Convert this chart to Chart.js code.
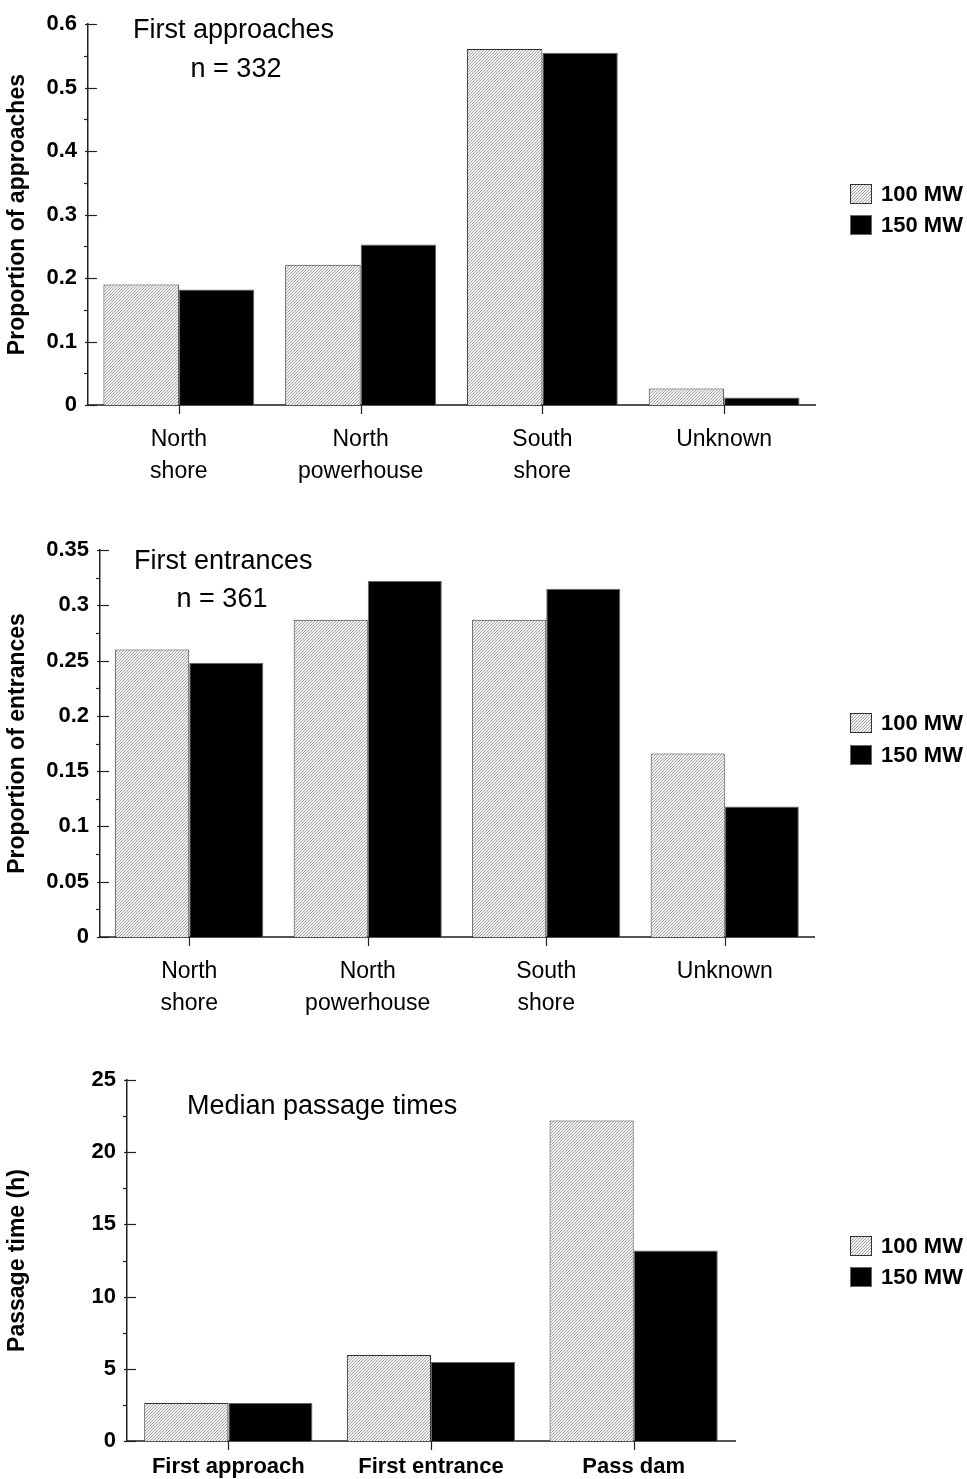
<!DOCTYPE html>
<html>
<head>
<meta charset="utf-8">
<script src="https://cdn.jsdelivr.net/npm/chart.js@4.4.1/dist/chart.umd.min.js"></script>
<style>
  body { margin: 0; background: #fff; }
  .wrap { position: relative; width: 967px; height: 1479px; }
  canvas { position: absolute; left: 0; }
</style>
</head>
<body>
<div class="wrap">
  <canvas id="c1" width="967" height="505" style="top:0px"></canvas>
  <canvas id="c2" width="967" height="520" style="top:510px"></canvas>
  <canvas id="c3" width="967" height="449" style="top:1030px"></canvas>
</div>
<script>
const seriesNames = ['100 MW', '150 MW'];

const approachCats = [['North', 'shore'], ['North', 'powerhouse'], ['South', 'shore'], 'Unknown'];
const approach100 = [0.190, 0.221, 0.561, 0.026];
const approach150 = [0.182, 0.253, 0.555, 0.012];
const approachTicks = [0, 0.1, 0.2, 0.3, 0.4, 0.5, 0.6];

const entranceCats = [['North', 'shore'], ['North', 'powerhouse'], ['South', 'shore'], 'Unknown'];
const entrance100 = [0.260, 0.287, 0.287, 0.166];
const entrance150 = [0.248, 0.322, 0.315, 0.118];
const entranceTicks = [0, 0.05, 0.1, 0.15, 0.2, 0.25, 0.3, 0.35];

const passageCats = ['First approach', 'First entrance', 'Pass dam'];
const passage100 = [2.63, 5.96, 22.2];
const passage150 = [2.63, 5.47, 13.2];
const passageTicks = [0, 5, 10, 15, 20, 25];

const FONT = '"Liberation Sans", Arial, sans-serif';

// light grey fill with fine "/" hatching
function hatch() {
  const c = document.createElement('canvas');
  c.width = 3; c.height = 3;
  const g = c.getContext('2d');
  g.fillStyle = '#f2f2f2';
  g.fillRect(0, 0, 3, 3);
  g.fillStyle = '#a6a6a6';
  for (let i = 0; i < 3; i++) g.fillRect(i, 2 - i, 1, 1);
  return g.createPattern(c, 'repeat');
}

const decor = {
  id: 'decor',
  afterDraw(chart, args, opts) {
    const ctx = chart.ctx;
    const xs = chart.scales.x, ys = chart.scales.y;
    ctx.save();
    ctx.strokeStyle = '#222';
    ctx.lineWidth = 1.2;
    // y ticks: major inward, minor outward
    const vals = ys.ticks.map(t => t.value);
    vals.forEach((v, i) => {
      const y = Math.round(ys.getPixelForValue(v)) + 0.5;
      ctx.beginPath();
      ctx.moveTo(ys.right - 3, y);
      ctx.lineTo(ys.right + 9, y);
      ctx.stroke();
      if (i < vals.length - 1) {
        const ym = Math.round(ys.getPixelForValue((v + vals[i + 1]) / 2)) + 0.5;
        ctx.beginPath();
        ctx.moveTo(ys.right - 4, ym);
        ctx.lineTo(ys.right, ym);
        ctx.stroke();
      }
    });
    // x ticks at category centres
    chart.data.labels.forEach((l, i) => {
      const x = Math.round(xs.getPixelForValue(i)) + 0.5;
      ctx.beginPath();
      ctx.moveTo(x, xs.top);
      ctx.lineTo(x, xs.top + 9);
      ctx.stroke();
    });
    // notes
    ctx.fillStyle = '#000';
    ctx.textBaseline = 'middle';
    ctx.font = '27px ' + FONT;
    opts.notes.forEach(n => {
      ctx.textAlign = n.align;
      ctx.fillText(n.text, n.x, n.y);
    });
    // legend
    ctx.font = 'bold 22px ' + FONT;
    ctx.textAlign = 'left';
    chart.data.datasets.forEach((ds, i) => {
      const y = opts.legendY[i];
      ctx.fillStyle = ds.backgroundColor;
      ctx.fillRect(850, y - 10, 22, 20);
      ctx.strokeStyle = ds.borderColor;
      ctx.lineWidth = 1;
      ctx.strokeRect(850.5, y - 9.5, 21, 19);
      ctx.fillStyle = '#000';
      ctx.fillText(ds.label, 881, y + 1);
    });
    ctx.restore();
  }
};

function makeChart(id, cfg) {
  const pattern = hatch();
  return new Chart(document.getElementById(id), {
    type: 'bar',
    data: {
      labels: cfg.labels,
      datasets: [
        { label: seriesNames[0], data: cfg.a, backgroundColor: pattern, borderColor: '#333', borderWidth: 1 },
        { label: seriesNames[1], data: cfg.b, backgroundColor: '#000', borderColor: '#666', borderWidth: 1 }
      ]
    },
    options: {
      responsive: false,
      animation: false,
      events: [],
      layout: { padding: cfg.pad },
      datasets: { bar: { barPercentage: 1, categoryPercentage: 0.83 } },
      plugins: {
        legend: { display: false },
        tooltip: { enabled: false },
        decor: { notes: cfg.notes, legendY: cfg.legendY }
      },
      scales: {
        x: {
          grid: { display: false, drawTicks: false },
          border: { display: true, color: '#555', width: 2 },
          ticks: {
            color: '#000',
            padding: cfg.xPad,
            maxRotation: 0,
            autoSkip: false,
            font: cfg.xFont
          },
          afterFit: s => { s.height = cfg.xHeight; }
        },
        y: {
          min: cfg.ticks[0],
          max: cfg.ticks[cfg.ticks.length - 1],
          afterBuildTicks: s => { s.ticks = cfg.ticks.map(v => ({ value: v })); },
          grid: { display: false, drawTicks: false },
          border: { display: true, color: '#222', width: 1.5 },
          ticks: {
            color: '#000',
            padding: 11,
            font: { family: FONT, size: 22, weight: 'bold' },
            callback: v => String(v)
          },
          title: {
            display: true,
            text: cfg.yTitle,
            color: '#000',
            font: { family: FONT, size: 23, weight: 'bold', lineHeight: 1.2 },
            padding: { top: 4, bottom: 0 }
          },
          afterFit: s => { s.width = cfg.yWidth; }
        }
      }
    },
    plugins: [decor]
  });
}

makeChart('c1', {
  labels: approachCats, a: approach100, b: approach150, ticks: approachTicks,
  yTitle: 'Proportion of approaches',
  pad: { top: 19, right: 152, bottom: 0, left: 0 },
  yWidth: 88, xHeight: 100, xPad: 19,
  xFont: { family: FONT, size: 23, lineHeight: '32px' },
  notes: [
    { text: 'First approaches', x: 133, y: 31, align: 'left' },
    { text: 'n = 332', x: 236, y: 70, align: 'center' }
  ],
  legendY: [194, 225]
});

makeChart('c2', {
  labels: entranceCats, a: entrance100, b: entrance150, ticks: entranceTicks,
  yTitle: 'Proportion of entrances',
  pad: { top: 40, right: 153, bottom: 0, left: 0 },
  yWidth: 100, xHeight: 93, xPad: 19,
  xFont: { family: FONT, size: 23, lineHeight: '32px' },
  notes: [
    { text: 'First entrances', x: 134, y: 52, align: 'left' },
    { text: 'n = 361', x: 222, y: 90, align: 'center' }
  ],
  legendY: [213, 245]
});

makeChart('c3', {
  labels: passageCats, a: passage100, b: passage150, ticks: passageTicks,
  yTitle: 'Passage time (h)',
  pad: { top: 50, right: 232, bottom: 0, left: 0 },
  yWidth: 127, xHeight: 38, xPad: 13,
  xFont: { family: FONT, size: 22, weight: 'bold', lineHeight: 1.2 },
  notes: [
    { text: 'Median passage times', x: 187, y: 77, align: 'left' }
  ],
  legendY: [216, 247]
});
</script>
</body>
</html>
